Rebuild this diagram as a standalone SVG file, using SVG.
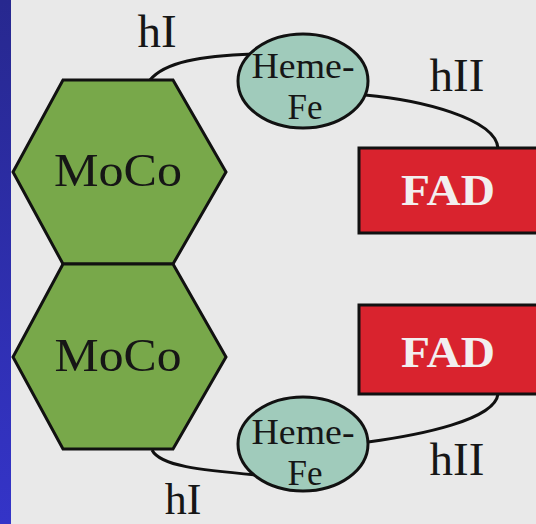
<svg xmlns="http://www.w3.org/2000/svg" width="536" height="524" viewBox="0 0 536 524">
<defs>
<linearGradient id="blue" x1="0" y1="0" x2="0" y2="1">
<stop offset="0" stop-color="#27288f"/>
<stop offset="1" stop-color="#3434c8"/>
</linearGradient>
<style>
.hex{fill:#78a84a;stroke:#111;stroke-width:3;stroke-linejoin:miter}
.fad{fill:#d9232e;stroke:#111;stroke-width:3}
.heme{fill:#a0cbbb;stroke:#111;stroke-width:3}
.lbl{font-family:"Liberation Serif",serif;fill:#161616}
.big{font-size:47px}
.small{font-size:35px}
.fadt{font-family:"Liberation Serif",serif;font-weight:bold;font-size:45px;fill:#f2efef}
.conn path{fill:none;stroke:#111;stroke-width:3}
</style>
</defs>
<rect width="536" height="524" fill="#e9e9e9"/>
<rect x="0" y="0" width="11" height="524" fill="url(#blue)"/>
<g class="conn" id="connectors">
<path d="M150,80 C165,62 200,56 253,54"/>
<path d="M365,95 C420,100 495,118 498,148"/>
<path d="M152,450 C160,466 200,470 257,475"/>
<path d="M368,442 C420,435 495,420 498,394"/>
</g>
<g id="moco1">
<polygon class="hex" points="63,80 173,80 226,172 173,264 63,264 13,172"/>
<text class="lbl big" x="118" y="186" text-anchor="middle" textLength="128" lengthAdjust="spacingAndGlyphs">MoCo</text>
</g>
<g id="moco2">
<polygon class="hex" points="63,264 173,264 226,357 173,449 63,449 13,357"/>
<text class="lbl big" x="118" y="371" text-anchor="middle" textLength="127" lengthAdjust="spacingAndGlyphs">MoCo</text>
</g>
<g id="fad1">
<rect class="fad" x="359" y="148" width="185" height="85"/>
<text class="fadt" x="448" y="205" text-anchor="middle" textLength="94" lengthAdjust="spacingAndGlyphs">FAD</text>
</g>
<g id="fad2">
<rect class="fad" x="359" y="305" width="185" height="89"/>
<text class="fadt" x="448" y="367" text-anchor="middle" textLength="94" lengthAdjust="spacingAndGlyphs">FAD</text>
</g>
<g id="heme1">
<ellipse class="heme" cx="303" cy="81" rx="65" ry="47"/>
<text class="lbl small" x="303" y="78" text-anchor="middle" textLength="103" lengthAdjust="spacingAndGlyphs">Heme-</text>
<text class="lbl small" x="305" y="119" text-anchor="middle">Fe</text>
</g>
<g id="heme2">
<ellipse class="heme" cx="303" cy="444" rx="65" ry="47"/>
<text class="lbl small" x="303" y="444" text-anchor="middle" textLength="103" lengthAdjust="spacingAndGlyphs">Heme-</text>
<text class="lbl small" x="305" y="485" text-anchor="middle">Fe</text>
</g>
<g id="labels">
<text class="lbl big" x="157" y="47" text-anchor="middle">hI</text>
<text class="lbl" x="183" y="514" text-anchor="middle" font-size="44">hI</text>
<text class="lbl big" x="457" y="91" text-anchor="middle">hII</text>
<text class="lbl big" x="457" y="475" text-anchor="middle">hII</text>
</g>
</svg>
